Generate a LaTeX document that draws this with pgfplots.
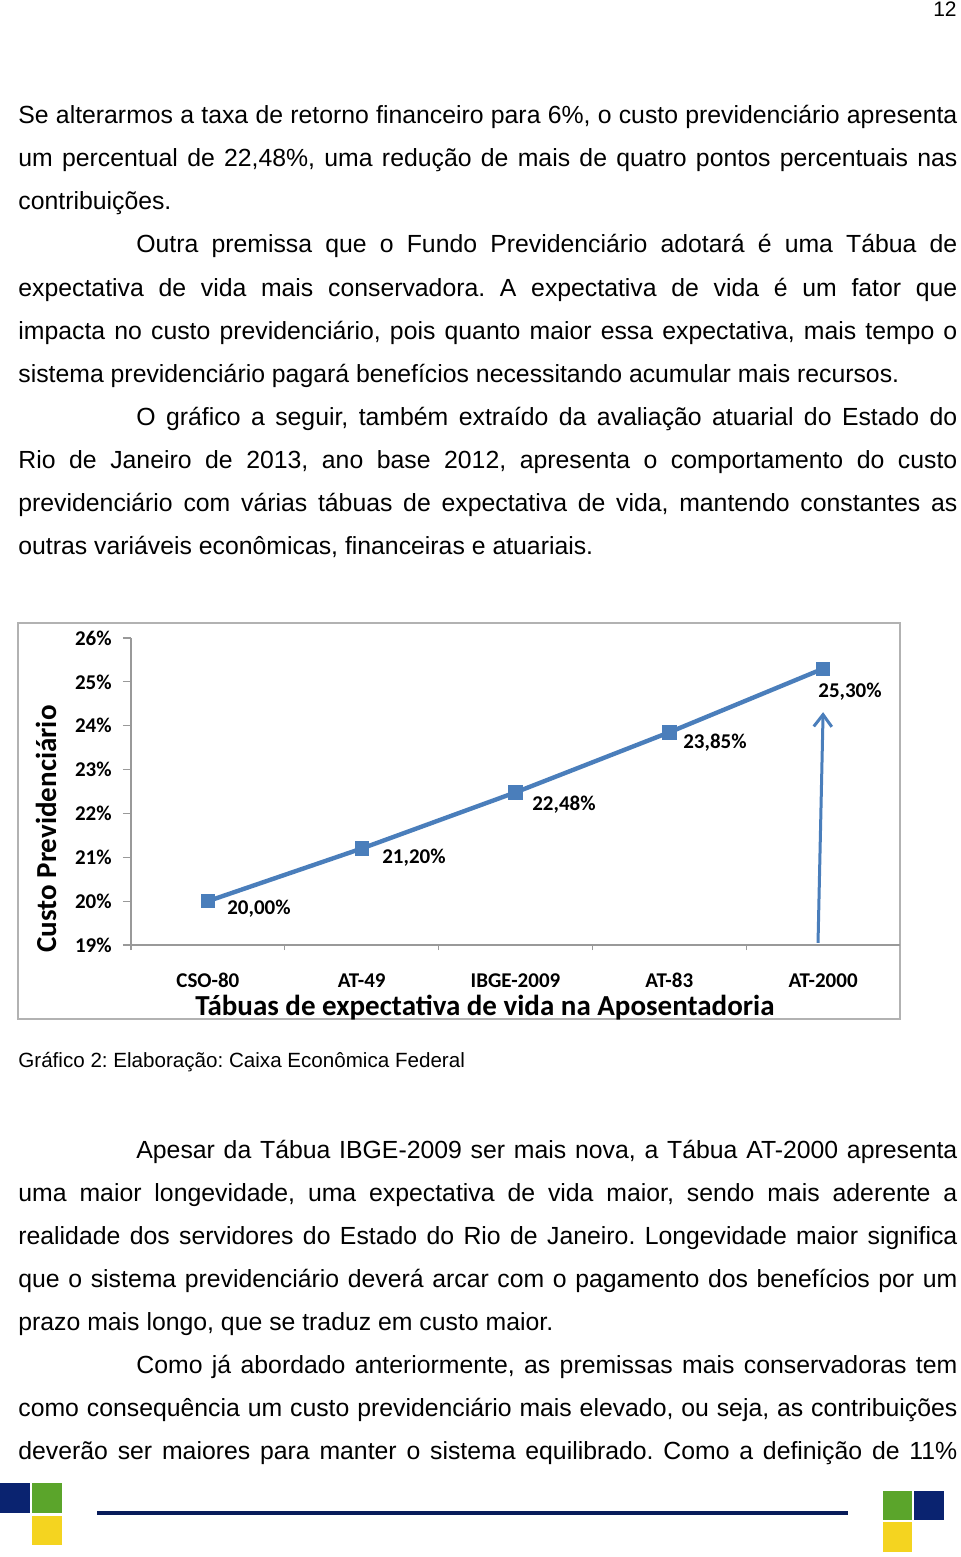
\documentclass[border=0pt]{standalone}
\usepackage{pgfplots}
\pgfplotsset{compat=1.18}
\usetikzlibrary{arrows.meta}
\usepackage{fontspec}
\setmainfont{Liberation Sans}
\newfontfamily\calibri{Carlito}
\definecolor{navyb}{HTML}{0A2370}
\definecolor{greenb}{HTML}{5BA52B}
\definecolor{yellowb}{HTML}{F4D420}
\definecolor{xlblue}{HTML}{4A7EBB}
\newcommand\jl[3]{\node[anchor=base west, inner sep=0pt] at (#1,#2) {\makebox[\dimexpr(957pt-#1pt)/2\relax][s]{#3}};}
\newcommand\lft[3]{\node[anchor=base west, inner sep=0pt] at (#1,#2) {#3};}
\frenchspacing
\begin{document}
\begin{tikzpicture}[x=0.5pt,y=-0.5pt]
\path[use as bounding box] (0,0) rectangle (960,1557);
\fill[white] (0,0) rectangle (960,1557);
\node[anchor=base east, inner sep=0pt, font=\fontsize{10.5}{12}\selectfont] at (957,17) {12};
\begin{scope}[font=\fontsize{12.4}{14}\selectfont]
\jl{18}{124}{Se alterarmos a taxa de retorno financeiro para 6\%, o custo previdenciário apresenta}
\jl{18}{167}{um percentual de 22,48\%, uma redução de mais de quatro pontos percentuais nas}
\lft{18}{210}{contribuições.}
\jl{136}{253}{Outra premissa que o Fundo Previdenciário adotará é uma Tábua de}
\jl{18}{296}{expectativa de vida mais conservadora. A expectativa de vida é um fator que}
\jl{18}{339}{impacta no custo previdenciário, pois quanto maior essa expectativa, mais tempo o}
\lft{18}{382}{sistema previdenciário pagará benefícios necessitando acumular mais recursos.}
\jl{136}{425}{O gráfico a seguir, também extraído da avaliação atuarial do Estado do}
\jl{18}{468}{Rio de Janeiro de 2013, ano base 2012, apresenta o comportamento do custo}
\jl{18}{511}{previdenciário com várias tábuas de expectativa de vida, mantendo constantes as}
\lft{18}{554}{outras variáveis econômicas, financeiras e atuariais.}
\jl{136}{1158}{Apesar da Tábua IBGE-2009 ser mais nova, a Tábua AT-2000 apresenta}
\jl{18}{1201}{uma maior longevidade, uma expectativa de vida maior, sendo mais aderente a}
\jl{18}{1244}{realidade dos servidores do Estado do Rio de Janeiro. Longevidade maior significa}
\jl{18}{1287}{que o sistema previdenciário deverá arcar com o pagamento dos benefícios por um}
\lft{18}{1330}{prazo mais longo, que se traduz em custo maior.}
\jl{136}{1373}{Como já abordado anteriormente, as premissas mais conservadoras tem}
\jl{18}{1416}{como consequência um custo previdenciário mais elevado, ou seja, as contribuições}
\jl{18}{1459}{deverão ser maiores para manter o sistema equilibrado. Como a definição de 11\%}
\end{scope}
\node[anchor=base west, inner sep=0pt, font=\fontsize{10.3}{12}\selectfont] at (18,1067) {Gráfico 2: Elaboração: Caixa Econômica Federal};
% chart frame
\draw[black!30, line width=0.9pt] (18,623) rectangle (900,1019);
% footer
\fill[navyb] (0,1483) rectangle (30,1513);
\fill[greenb] (32,1483) rectangle (62,1513);
\fill[yellowb] (32,1516) rectangle (62,1545);
\draw[navyb!80!black, line width=1.7pt] (97,1513) -- (848,1513);
\fill[greenb] (883,1491) rectangle (912,1520);
\fill[navyb] (914,1491) rectangle (944,1520);
\fill[yellowb] (883,1522) rectangle (912,1552);
\begin{scope}[x=1cm,y=1cm]
\begin{axis}[
  at={(65.5pt,-472.5pt)}, anchor=south west,
  scale only axis, width=384.5pt, height=153.5pt,
  xmin=-0.5, xmax=4.5, ymin=19, ymax=26,
  axis lines=left, axis line style={draw=black!40, line width=0.6pt, -},
  tick align=outside,
  ytick={19,20,21,22,23,24,25,26},
  yticklabels={19\%,20\%,21\%,22\%,23\%,24\%,25\%,26\%},
  xtick={0,1,2,3,4},
  xticklabels={CSO-80,AT-49,IBGE-2009,AT-83,AT-2000},
  minor xtick={-0.5,0.5,1.5,2.5,3.5},
  major x tick style={draw=none},
  minor x tick style={draw=black!40, line width=0.6pt},
  ytick style={draw=black!40, line width=0.6pt},
  major tick length=4pt, minor tick length=2.5pt,
  ticklabel style={font=\calibri\bfseries\fontsize{10.5}{12}\selectfont, inner sep=0pt},
  yticklabel style={anchor=east, xshift=-5.5pt},
  xticklabel style={anchor=base, yshift=-17pt},
  xlabel={Tábuas de expectativa de vida na Aposentadoria},
  ylabel={Custo Previdenciário},
  every axis x label/.style={at={(axis description cs:0.4603,-0.205)}, anchor=center, font=\calibri\bfseries\fontsize{14.5}{16}\selectfont},
  every axis y label/.style={at={(axis description cs:-0.1105,0.378)}, rotate=90, anchor=center, font=\calibri\bfseries\fontsize{14.5}{16}\selectfont},
  clip=false,
]
\addplot[color=xlblue, line width=2.2pt, mark=square*, mark size=2.5pt, mark options={solid}] coordinates {
  (0,20.00) (1,21.20) (2,22.48) (3,23.85) (4,25.30)};
\begin{scope}[font=\calibri\bfseries\fontsize{10.5}{12}\selectfont]
\node at (axis cs:0.332,19.82) {20,00\%};
\node at (axis cs:1.340,20.98) {21,20\%};
\node at (axis cs:2.315,22.19) {22,48\%};
\node at (axis cs:3.297,23.61) {23,85\%};
\node at (axis cs:4.175,24.77) {25,30\%};
\end{scope}
\draw[xlblue, line width=1.5pt, -{Straight Barb[length=6pt,width=9pt,line width=1.5pt]}] (axis cs:3.967,19.05) -- (axis cs:4.0,24.31);
\end{axis}
\end{scope}
\end{tikzpicture}
\end{document}
